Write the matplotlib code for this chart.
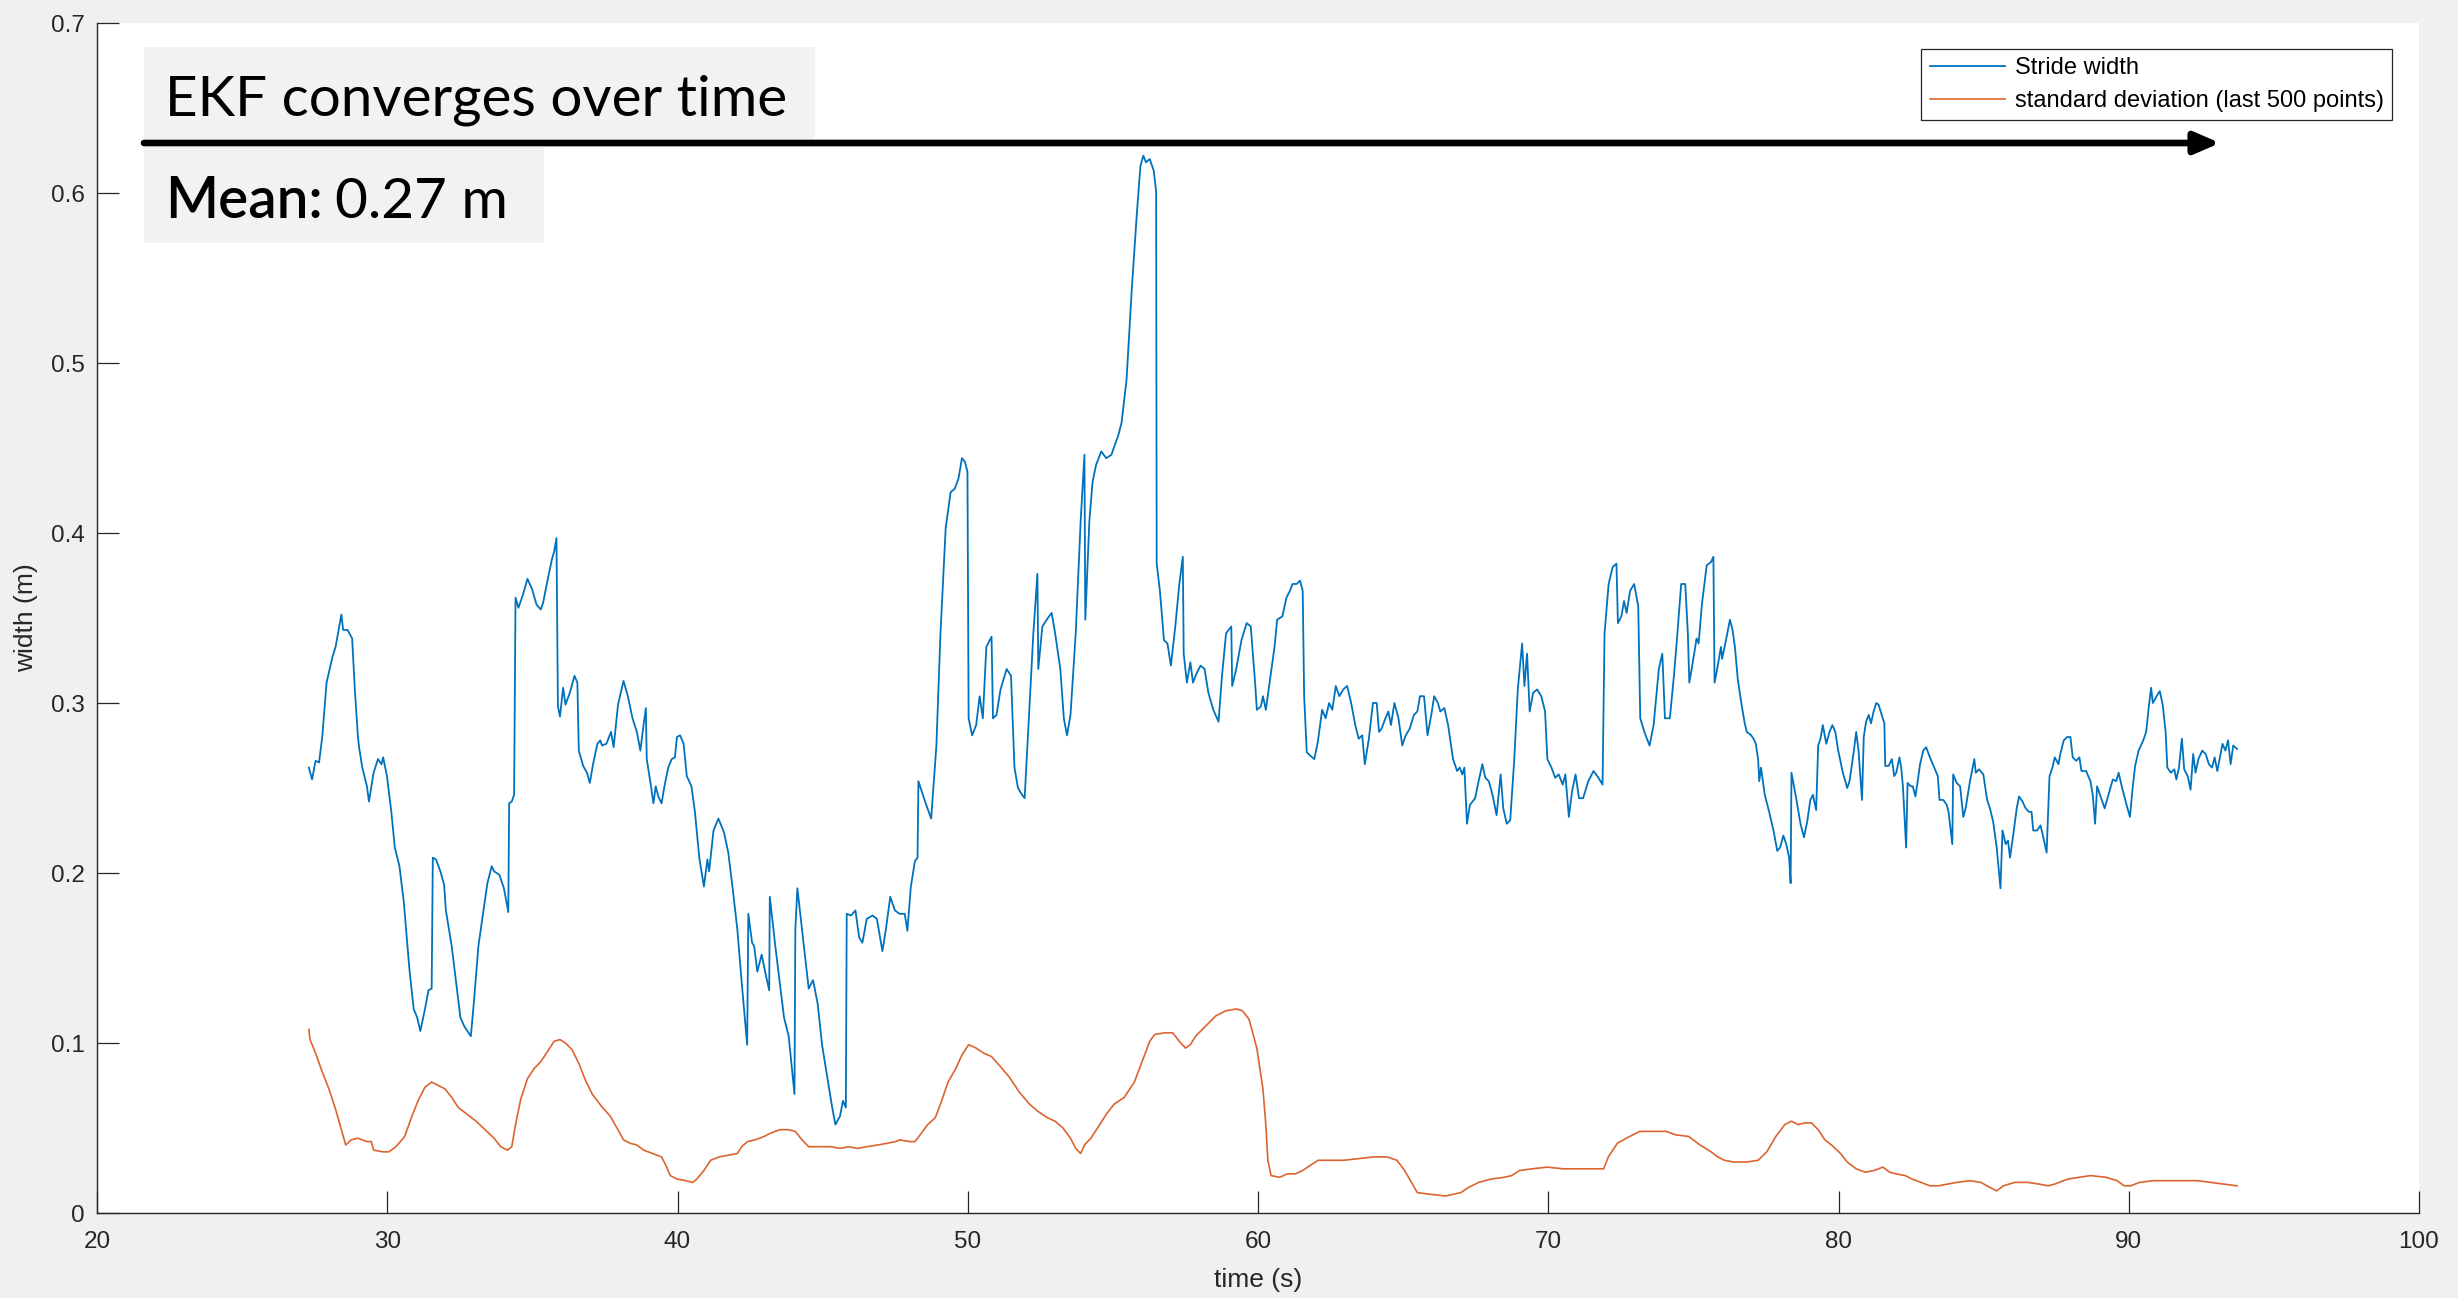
import matplotlib
matplotlib.use("Agg")
import matplotlib.pyplot as plt
from matplotlib.patches import Rectangle, FancyArrowPatch

W, H = 2458, 1298

# stride width (time s, width m)
stride_t = [27.30, 27.41, 27.53, 27.65, 27.76, 27.91, 28.11, 28.22, 28.42, 28.48, 28.63, 28.79, 28.88, 28.99,
            29.03, 29.14, 29.30, 29.37, 29.53, 29.68, 29.80, 29.86, 29.99, 30.14, 30.26, 30.42, 30.57, 30.76,
            30.91, 31.03, 31.14, 31.30, 31.42, 31.53, 31.57, 31.68, 31.83, 31.96, 32.02, 32.22, 32.37, 32.52,
            32.65, 32.76, 32.88, 32.99, 33.14, 33.29, 33.45, 33.60, 33.68, 33.86, 34.02, 34.17, 34.20, 34.29,
            34.37, 34.42, 34.52, 34.68, 34.83, 34.99, 35.14, 35.29, 35.37, 35.52, 35.68, 35.75, 35.83, 35.88,
            35.95, 36.06, 36.14, 36.29, 36.45, 36.55, 36.60, 36.75, 36.88, 36.98, 37.09, 37.24, 37.34, 37.40,
            37.55, 37.71, 37.80, 37.95, 38.14, 38.29, 38.45, 38.60, 38.72, 38.83, 38.91, 38.94, 39.06, 39.17,
            39.25, 39.34, 39.45, 39.55, 39.68, 39.80, 39.91, 39.98, 40.09, 40.21, 40.32, 40.48, 40.60, 40.75,
            40.91, 41.03, 41.09, 41.24, 41.41, 41.60, 41.75, 41.90, 42.06, 42.21, 42.40, 42.44, 42.57, 42.64,
            42.75, 42.90, 43.03, 43.16, 43.18, 43.37, 43.52, 43.67, 43.83, 44.03, 44.06, 44.13, 44.29, 44.44,
            44.52, 44.67, 44.83, 44.98, 45.18, 45.33, 45.44, 45.60, 45.70, 45.80, 45.83, 45.98, 46.13, 46.26,
            46.37, 46.52, 46.72, 46.87, 47.06, 47.18, 47.33, 47.49, 47.65, 47.83, 47.92, 48.04, 48.18, 48.27,
            48.30, 48.53, 48.74, 48.92, 49.06, 49.24, 49.41, 49.55, 49.68, 49.80, 49.90, 49.99, 50.03, 50.15,
            50.29, 50.41, 50.52, 50.64, 50.82, 50.87, 50.99, 51.13, 51.34, 51.49, 51.61, 51.73, 51.87, 51.96,
            52.08, 52.26, 52.40, 52.43, 52.57, 52.72, 52.89, 53.01, 53.19, 53.31, 53.42, 53.54, 53.72, 53.89,
            54.02, 54.05, 54.19, 54.30, 54.42, 54.60, 54.77, 54.95, 55.07, 55.18, 55.30, 55.47, 55.65, 55.83,
            55.95, 56.05, 56.14, 56.27, 56.41, 56.49, 56.51, 56.62, 56.76, 56.88, 57.00, 57.15, 57.29, 57.41,
            57.44, 57.55, 57.67, 57.76, 57.90, 58.02, 58.16, 58.29, 58.46, 58.64, 58.76, 58.90, 59.08, 59.11,
            59.25, 59.43, 59.61, 59.75, 59.90, 59.96, 60.10, 60.17, 60.27, 60.40, 60.57, 60.66, 60.84, 60.98,
            61.10, 61.19, 61.33, 61.45, 61.54, 61.59, 61.68, 61.80, 61.94, 62.06, 62.21, 62.33, 62.45, 62.56,
            62.68, 62.80, 62.94, 63.07, 63.21, 63.35, 63.47, 63.59, 63.68, 63.82, 63.96, 64.09, 64.17, 64.26,
            64.39, 64.49, 64.58, 64.70, 64.84, 64.97, 65.09, 65.23, 65.37, 65.49, 65.58, 65.72, 65.84, 65.97,
            66.07, 66.20, 66.28, 66.42, 66.55, 66.72, 66.86, 66.95, 67.04, 67.11, 67.20, 67.30, 67.48, 67.60,
            67.73, 67.83, 67.95, 68.08, 68.22, 68.36, 68.45, 68.57, 68.69, 68.83, 68.95, 69.10, 69.18, 69.27,
            69.36, 69.48, 69.62, 69.76, 69.89, 69.97, 70.11, 70.24, 70.36, 70.50, 70.59, 70.71, 70.82, 70.94,
            71.06, 71.20, 71.38, 71.56, 71.73, 71.87, 71.94, 72.08, 72.22, 72.35, 72.40, 72.52, 72.61, 72.70,
            72.82, 72.96, 73.10, 73.17, 73.31, 73.49, 73.63, 73.81, 73.93, 74.02, 74.19, 74.33, 74.45, 74.58,
            74.72, 74.81, 74.86, 74.98, 75.11, 75.18, 75.30, 75.46, 75.61, 75.69, 75.73, 75.80, 75.95, 75.99,
            76.10, 76.26, 76.35, 76.43, 76.53, 76.66, 76.77, 76.84, 76.99, 77.07, 77.15, 77.23, 77.27, 77.33,
            77.46, 77.61, 77.76, 77.89, 77.99, 78.10, 78.20, 78.30, 78.35, 78.38, 78.53, 78.69, 78.81, 78.92,
            79.03, 79.12, 79.23, 79.30, 79.38, 79.46, 79.58, 79.69, 79.79, 79.89, 79.99, 80.15, 80.30, 80.38,
            80.53, 80.61, 80.69, 80.81, 80.87, 80.95, 81.04, 81.12, 81.21, 81.30, 81.38, 81.49, 81.58, 81.61,
            81.73, 81.84, 81.92, 81.99, 82.10, 82.16, 82.22, 82.33, 82.38, 82.49, 82.56, 82.65, 82.72, 82.81,
            82.92, 83.02, 83.15, 83.30, 83.42, 83.48, 83.61, 83.73, 83.79, 83.92, 83.95, 84.07, 84.19, 84.30,
            84.38, 84.53, 84.68, 84.73, 84.84, 84.99, 85.12, 85.22, 85.33, 85.45, 85.58, 85.65, 85.76, 85.84,
            85.91, 86.04, 86.14, 86.22, 86.34, 86.45, 86.56, 86.65, 86.71, 86.84, 86.96, 87.07, 87.17, 87.27,
            87.37, 87.45, 87.58, 87.64, 87.76, 87.88, 87.99, 88.07, 88.19, 88.30, 88.37, 88.53, 88.68, 88.76,
            88.84, 88.91, 89.07, 89.17, 89.30, 89.45, 89.57, 89.65, 89.76, 89.91, 90.04, 90.14, 90.22, 90.34,
            90.50, 90.60, 90.68, 90.77, 90.83, 90.96, 91.07, 91.17, 91.27, 91.33, 91.45, 91.57, 91.64, 91.73,
            91.83, 91.91, 92.03, 92.13, 92.22, 92.30, 92.40, 92.53, 92.65, 92.76, 92.87, 92.96, 93.05, 93.14,
            93.23, 93.33, 93.42, 93.51, 93.60, 93.73]
stride_w = [0.262, 0.255, 0.266, 0.265, 0.280, 0.312, 0.327, 0.333, 0.352, 0.343, 0.343, 0.338, 0.309, 0.280,
            0.274, 0.262, 0.251, 0.242, 0.259, 0.267, 0.264, 0.268, 0.257, 0.236, 0.215, 0.204, 0.183, 0.144,
            0.120, 0.115, 0.107, 0.120, 0.131, 0.132, 0.209, 0.208, 0.201, 0.193, 0.178, 0.157, 0.136, 0.115,
            0.110, 0.107, 0.104, 0.125, 0.157, 0.175, 0.194, 0.204, 0.201, 0.199, 0.191, 0.177, 0.241, 0.242,
            0.246, 0.362, 0.356, 0.364, 0.373, 0.367, 0.358, 0.355, 0.359, 0.372, 0.385, 0.389, 0.397, 0.298,
            0.292, 0.309, 0.299, 0.306, 0.316, 0.312, 0.272, 0.263, 0.259, 0.253, 0.264, 0.276, 0.278, 0.275,
            0.276, 0.283, 0.274, 0.299, 0.313, 0.304, 0.291, 0.283, 0.272, 0.287, 0.297, 0.267, 0.254, 0.241,
            0.251, 0.245, 0.241, 0.251, 0.262, 0.267, 0.268, 0.280, 0.281, 0.276, 0.257, 0.251, 0.236, 0.209,
            0.192, 0.208, 0.201, 0.225, 0.232, 0.224, 0.212, 0.191, 0.167, 0.136, 0.099, 0.176, 0.159, 0.157,
            0.142, 0.152, 0.141, 0.131, 0.186, 0.157, 0.136, 0.115, 0.104, 0.070, 0.167, 0.191, 0.167, 0.144,
            0.132, 0.137, 0.123, 0.099, 0.078, 0.062, 0.052, 0.057, 0.066, 0.062, 0.176, 0.175, 0.178, 0.162,
            0.159, 0.173, 0.175, 0.173, 0.154, 0.167, 0.186, 0.178, 0.176, 0.176, 0.166, 0.192, 0.207, 0.209,
            0.254, 0.242, 0.232, 0.275, 0.341, 0.403, 0.424, 0.426, 0.432, 0.444, 0.442, 0.436, 0.291, 0.281,
            0.287, 0.304, 0.291, 0.333, 0.339, 0.291, 0.293, 0.308, 0.320, 0.316, 0.262, 0.250, 0.246, 0.244,
            0.283, 0.341, 0.376, 0.320, 0.345, 0.349, 0.353, 0.341, 0.320, 0.291, 0.281, 0.293, 0.341, 0.407,
            0.446, 0.349, 0.407, 0.430, 0.440, 0.448, 0.444, 0.446, 0.452, 0.457, 0.465, 0.490, 0.543, 0.589,
            0.616, 0.622, 0.618, 0.620, 0.613, 0.601, 0.382, 0.366, 0.337, 0.335, 0.322, 0.345, 0.370, 0.386,
            0.329, 0.312, 0.324, 0.312, 0.318, 0.322, 0.320, 0.306, 0.296, 0.289, 0.316, 0.341, 0.345, 0.310,
            0.320, 0.337, 0.347, 0.345, 0.312, 0.296, 0.298, 0.304, 0.296, 0.312, 0.333, 0.349, 0.351, 0.362,
            0.366, 0.370, 0.370, 0.372, 0.366, 0.304, 0.271, 0.269, 0.267, 0.277, 0.296, 0.291, 0.300, 0.296,
            0.310, 0.304, 0.308, 0.310, 0.300, 0.287, 0.279, 0.281, 0.264, 0.279, 0.300, 0.300, 0.283, 0.285,
            0.291, 0.295, 0.287, 0.300, 0.291, 0.275, 0.281, 0.285, 0.293, 0.295, 0.304, 0.304, 0.281, 0.293,
            0.304, 0.300, 0.295, 0.297, 0.287, 0.267, 0.260, 0.262, 0.258, 0.262, 0.229, 0.240, 0.244, 0.254,
            0.264, 0.256, 0.254, 0.246, 0.234, 0.258, 0.238, 0.229, 0.231, 0.267, 0.308, 0.335, 0.310, 0.329,
            0.295, 0.306, 0.308, 0.304, 0.295, 0.267, 0.262, 0.256, 0.258, 0.252, 0.258, 0.233, 0.248, 0.258,
            0.244, 0.244, 0.254, 0.260, 0.256, 0.252, 0.341, 0.370, 0.380, 0.382, 0.347, 0.351, 0.360, 0.353,
            0.366, 0.370, 0.357, 0.291, 0.283, 0.275, 0.287, 0.320, 0.329, 0.291, 0.291, 0.316, 0.341, 0.370,
            0.370, 0.341, 0.312, 0.324, 0.338, 0.335, 0.359, 0.381, 0.383, 0.386, 0.312, 0.318, 0.333, 0.326,
            0.335, 0.349, 0.343, 0.333, 0.314, 0.299, 0.288, 0.283, 0.281, 0.279, 0.276, 0.267, 0.254, 0.262,
            0.246, 0.236, 0.225, 0.213, 0.215, 0.222, 0.217, 0.209, 0.194, 0.259, 0.245, 0.229, 0.221, 0.230,
            0.243, 0.246, 0.237, 0.275, 0.279, 0.287, 0.276, 0.283, 0.287, 0.283, 0.272, 0.259, 0.250, 0.254,
            0.272, 0.283, 0.272, 0.243, 0.280, 0.289, 0.293, 0.288, 0.295, 0.300, 0.299, 0.293, 0.288, 0.263,
            0.263, 0.267, 0.257, 0.259, 0.268, 0.262, 0.251, 0.215, 0.253, 0.251, 0.251, 0.245, 0.253, 0.264,
            0.272, 0.274, 0.268, 0.262, 0.257, 0.243, 0.243, 0.240, 0.236, 0.217, 0.258, 0.253, 0.251, 0.233,
            0.238, 0.254, 0.267, 0.259, 0.261, 0.258, 0.243, 0.238, 0.230, 0.215, 0.191, 0.225, 0.217, 0.219,
            0.209, 0.225, 0.238, 0.245, 0.242, 0.238, 0.236, 0.236, 0.225, 0.225, 0.228, 0.220, 0.212, 0.257,
            0.262, 0.268, 0.264, 0.270, 0.278, 0.280, 0.280, 0.268, 0.266, 0.268, 0.260, 0.260, 0.254, 0.246,
            0.229, 0.251, 0.243, 0.238, 0.246, 0.255, 0.254, 0.259, 0.251, 0.241, 0.233, 0.251, 0.263, 0.272,
            0.278, 0.283, 0.296, 0.309, 0.300, 0.304, 0.307, 0.299, 0.283, 0.262, 0.259, 0.261, 0.255, 0.262,
            0.279, 0.261, 0.257, 0.249, 0.270, 0.259, 0.267, 0.272, 0.270, 0.264, 0.262, 0.268, 0.260, 0.268,
            0.276, 0.272, 0.278, 0.264, 0.275, 0.273]

# standard deviation over the last 500 points
std_t = [27.30, 27.34, 27.53, 27.76, 27.99, 28.22, 28.42, 28.57, 28.76, 28.99, 29.30, 29.45, 29.53, 29.83,
         30.06, 30.30, 30.60, 30.83, 31.06, 31.30, 31.53, 31.76, 31.99, 32.22, 32.45, 32.76, 33.06, 33.37,
         33.68, 33.91, 34.14, 34.29, 34.42, 34.60, 34.83, 35.06, 35.29, 35.52, 35.75, 35.95, 36.14, 36.37,
         36.60, 36.83, 37.06, 37.37, 37.68, 37.95, 38.14, 38.37, 38.60, 38.83, 39.14, 39.45, 39.60, 39.75,
         39.98, 40.29, 40.52, 40.67, 40.91, 41.14, 41.44, 41.75, 42.06, 42.21, 42.41, 42.67, 42.98, 43.21,
         43.52, 43.83, 44.06, 44.29, 44.52, 44.90, 45.29, 45.60, 45.90, 46.21, 46.52, 46.90, 47.21, 47.52,
         47.65, 48.01, 48.18, 48.36, 48.62, 48.88, 49.06, 49.32, 49.59, 49.80, 50.03, 50.29, 50.55, 50.82,
         51.08, 51.43, 51.78, 52.13, 52.40, 52.75, 53.01, 53.28, 53.54, 53.72, 53.89, 54.02, 54.24, 54.51,
         54.77, 55.04, 55.39, 55.74, 56.05, 56.27, 56.44, 56.79, 57.06, 57.29, 57.50, 57.67, 57.85, 58.20,
         58.55, 58.90, 59.25, 59.46, 59.69, 59.96, 60.17, 60.27, 60.34, 60.45, 60.75, 61.01, 61.28, 61.54,
         61.80, 62.07, 62.42, 62.94, 63.47, 64.00, 64.44, 64.79, 65.05, 65.32, 65.49, 65.93, 66.46, 66.99,
         67.25, 67.60, 68.04, 68.48, 68.74, 69.01, 69.45, 69.97, 70.50, 71.03, 71.64, 71.91, 72.07, 72.38,
         72.69, 73.15, 73.61, 74.07, 74.38, 74.84, 75.23, 75.61, 75.84, 76.07, 76.38, 76.84, 77.23, 77.53,
         77.84, 78.15, 78.38, 78.61, 78.84, 79.07, 79.30, 79.53, 79.76, 80.07, 80.30, 80.61, 80.92, 81.22,
         81.53, 81.76, 81.99, 82.30, 82.53, 82.84, 83.15, 83.45, 83.76, 84.07, 84.53, 84.91, 85.22, 85.45,
         85.68, 86.07, 86.53, 86.91, 87.22, 87.45, 87.91, 88.30, 88.68, 89.22, 89.60, 89.84, 90.07, 90.37,
         90.83, 91.30, 91.76, 92.37, 92.83, 93.30, 93.73]
std_w = [0.108, 0.102, 0.094, 0.083, 0.073, 0.061, 0.049, 0.040, 0.043, 0.044, 0.042, 0.042, 0.037, 0.036,
         0.036, 0.039, 0.045, 0.056, 0.066, 0.074, 0.077, 0.075, 0.073, 0.068, 0.062, 0.058, 0.054, 0.049,
         0.044, 0.039, 0.037, 0.039, 0.052, 0.067, 0.079, 0.085, 0.089, 0.095, 0.101, 0.102, 0.100, 0.096,
         0.088, 0.078, 0.070, 0.063, 0.057, 0.049, 0.043, 0.041, 0.040, 0.037, 0.035, 0.033, 0.028, 0.022,
         0.020, 0.019, 0.018, 0.020, 0.025, 0.031, 0.033, 0.034, 0.035, 0.039, 0.042, 0.043, 0.045, 0.047,
         0.049, 0.049, 0.048, 0.043, 0.039, 0.039, 0.039, 0.038, 0.039, 0.038, 0.039, 0.040, 0.041, 0.042,
         0.043, 0.042, 0.042, 0.046, 0.052, 0.056, 0.064, 0.077, 0.085, 0.093, 0.099, 0.097, 0.094, 0.092,
         0.087, 0.080, 0.071, 0.064, 0.060, 0.056, 0.054, 0.050, 0.044, 0.038, 0.035, 0.040, 0.044, 0.051,
         0.058, 0.064, 0.068, 0.077, 0.091, 0.101, 0.105, 0.106, 0.106, 0.101, 0.097, 0.099, 0.104, 0.110,
         0.116, 0.119, 0.120, 0.119, 0.114, 0.097, 0.073, 0.052, 0.031, 0.022, 0.021, 0.023, 0.023, 0.025,
         0.028, 0.031, 0.031, 0.031, 0.032, 0.033, 0.033, 0.031, 0.025, 0.017, 0.012, 0.011, 0.010, 0.012,
         0.015, 0.018, 0.020, 0.021, 0.022, 0.025, 0.026, 0.027, 0.026, 0.026, 0.026, 0.026, 0.033, 0.041,
         0.044, 0.048, 0.048, 0.048, 0.046, 0.045, 0.040, 0.036, 0.033, 0.031, 0.030, 0.030, 0.031, 0.036,
         0.045, 0.052, 0.054, 0.052, 0.053, 0.053, 0.049, 0.043, 0.040, 0.035, 0.030, 0.026, 0.024, 0.025,
         0.027, 0.024, 0.023, 0.022, 0.020, 0.018, 0.016, 0.016, 0.017, 0.018, 0.019, 0.018, 0.015, 0.013,
         0.016, 0.018, 0.018, 0.017, 0.016, 0.017, 0.020, 0.021, 0.022, 0.021, 0.019, 0.016, 0.016, 0.018,
         0.019, 0.019, 0.019, 0.019, 0.018, 0.017, 0.016]

x_ticks = [20, 30, 40, 50, 60, 70, 80, 90, 100]
y_ticks = [0, 0.1, 0.2, 0.3, 0.4, 0.5, 0.6, 0.7]
y_tick_labels = ["0", "0.1", "0.2", "0.3", "0.4", "0.5", "0.6", "0.7"]

dark = "#262626"
plt.rcParams["font.family"] = ["Liberation Sans", "DejaVu Sans"]

fig = plt.figure(figsize=(W / 100, H / 100), dpi=100, facecolor="#f0f0f0")
ax = fig.add_axes([97 / W, 85 / H, 2322 / W, 1190 / H])

ax.plot(stride_t, stride_w, color="#0072BD", lw=1.3, label="Stride width")
ax.plot(std_t, std_w, color="#D95319", lw=1.2, alpha=0.9, label="standard deviation (last 500 points)")

ax.set_xlim(20, 100)
ax.set_ylim(0, 0.7)
ax.set_xticks(x_ticks)
ax.set_yticks(y_ticks)
ax.set_yticklabels(y_tick_labels)
ax.tick_params(direction="in", length=16, width=0.9, colors=dark, labelsize=17.5)
ax.tick_params(axis="x", pad=13)
ax.tick_params(axis="y", pad=9)
for s in ["top", "right"]:
    ax.spines[s].set_visible(False)
for s in ["left", "bottom"]:
    ax.spines[s].set_color(dark)
    ax.spines[s].set_linewidth(1.0)

ax.set_xlabel("time (s)", fontsize=19, color=dark, labelpad=11)
ax.set_ylabel("width (m)", fontsize=19, color=dark, labelpad=9)

leg = ax.legend(loc="upper right", bbox_to_anchor=(2392 / W, 1 - 49 / H), bbox_transform=fig.transFigure,
                fontsize=17, frameon=True, fancybox=False, framealpha=1, edgecolor=dark,
                handlelength=3.2, handletextpad=0.4, borderpad=0.35, labelspacing=0.45, borderaxespad=0)
leg.get_frame().set_linewidth(0.9)


# figure pixel helpers (measured from top-left)
def fx(px):
    return px / W


def fy(py):
    return 1 - py / H


# grey text boxes
for (x0, y0, x1, y1) in [(144, 47, 815, 139), (144, 147, 544, 243)]:
    fig.add_artist(Rectangle((fx(x0), fy(y1)), (x1 - x0) / W, (y1 - y0) / H, transform=fig.transFigure,
                             facecolor="#f2f2f2", edgecolor="none", zorder=5))

arrow = FancyArrowPatch((fx(144), fy(143)), (fx(2220), fy(143)), transform=fig.transFigure,
                        arrowstyle="-|>,head_length=1.5,head_width=0.65", mutation_scale=10,
                        lw=4.8, color="black", shrinkA=0, shrinkB=0, zorder=6)
fig.add_artist(arrow)

fig.canvas.draw()
r = fig.canvas.get_renderer()

t1 = fig.text(fx(165), fy(116), "EKF converges over time", family="Lato", fontsize=40,
              va="baseline", ha="left", color="black", zorder=7)
w1 = t1.get_window_extent(r).width
size = 40 * 622 / w1
t1.set_fontsize(size)

t2 = fig.text(fx(165), fy(218), "Mean:", family="Lato", weight="semibold", fontsize=size,
              va="baseline", ha="left", color="black", zorder=7)
w2 = t2.get_window_extent(r).width
t3 = fig.text(fx(165 + w2 + 0.22 * size * 100 / 72), fy(218), "0.27 m", family="Lato", fontsize=size,
              va="baseline", ha="left", color="black", zorder=7)

fig.savefig("out.png", dpi=100, facecolor=fig.get_facecolor())
